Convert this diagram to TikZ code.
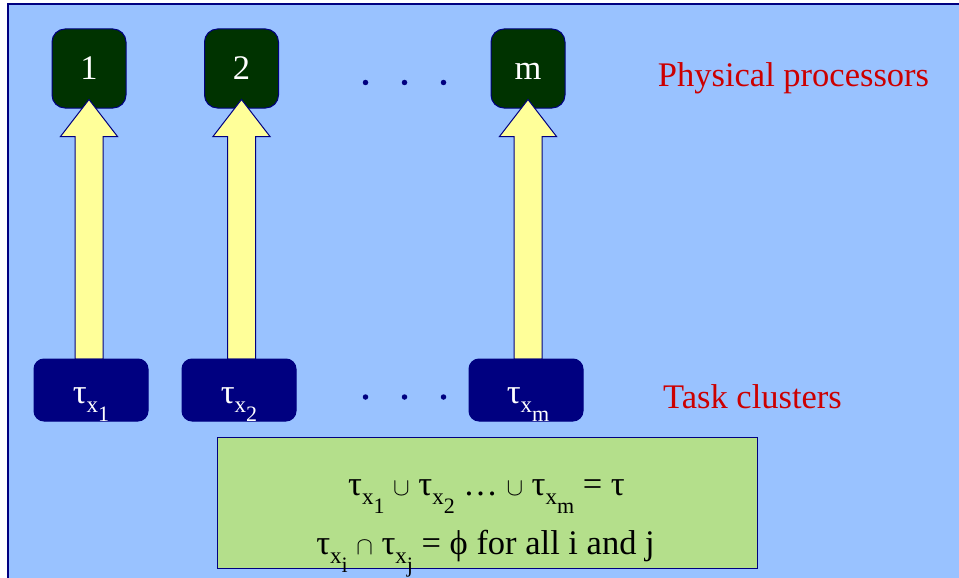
\documentclass[tikz,border=0pt]{standalone}
\usepackage{fontspec}
\setmainfont{Liberation Serif}
\usetikzlibrary{calc}
\definecolor{bgblue}{HTML}{99C2FF}
\definecolor{navyb}{HTML}{000080}
\definecolor{procgreen}{HTML}{003300}
\definecolor{arrowyellow}{HTML}{FFFF99}
\definecolor{boxgreen}{HTML}{B4DF8B}
\definecolor{labelred}{HTML}{CC0000}
\newcommand\tx[1]{τ\raisebox{-9pt}{\fontsize{23}{23}\selectfont x\raisebox{-9pt}{\fontsize{22}{22}\selectfont #1}}}
\tikzset{
  bigfont/.style={font=\fontsize{34.5}{40}\selectfont},
  procbox/.style={draw=navyb, line width=1pt, fill=procgreen, rounded corners=13pt,
    minimum width=74pt, minimum height=79pt, inner sep=0pt, text=white, bigfont,
    text height=23pt, text depth=0pt},
  clusterbox/.style={draw=navyb, line width=1pt, fill=navyb, rounded corners=10pt,
    minimum width=114pt, minimum height=62pt, inner sep=0pt},
  whitelabel/.style={text=white, bigfont, inner sep=0pt, anchor=base},
  redlabel/.style={text=labelred, bigfont, inner sep=0pt, anchor=base},
  blacklabel/.style={text=black, bigfont, inner sep=0pt, anchor=base},
  blockarrow/.style={draw=navyb, line width=1pt, fill=arrowyellow, line join=miter},
  greenbox/.style={draw=navyb, line width=1pt, fill=boxgreen,
    minimum width=540pt, minimum height=131pt, inner sep=0pt},
  dotmark/.style={circle, fill=navyb, inner sep=0pt, minimum size=5.5pt}
}
\begin{document}
\begin{tikzpicture}[x=1pt,y=-1pt]
\useasboundingbox (0,0) rectangle (959,578);
\fill[bgblue] (8,4) rectangle (959,578);
\draw[navyb, line width=1.2pt] (8,578) -- (8,4) -- (959,4);

% processors
\node[procbox] (p1) at (89,68.5) {1};
\node[procbox] (p2) at (241.5,68.5) {2};
\node[procbox] (pm) at (528,68.5) {m};

% cluster boxes (positions)
\coordinate (c1pos) at (91,390);
\coordinate (c2pos) at (239,390);
\coordinate (cmpos) at (526,390);

% arrows from cluster tops to processors
\foreach \cc/\pp in {c1pos/p1, c2pos/p2, cmpos/pm}{
  \draw[blockarrow] let \p1=($(\cc)+(0,-31)$), \p2=(\pp.south) in
    (\x2-14pt,\y1) -- (\x2-14pt,\y2-28pt) -- (\x2-28.5pt,\y2-28pt) --
    (\x2,\y2+9pt) -- (\x2+28.5pt,\y2-28pt) -- (\x2+14pt,\y2-28pt) --
    (\x2+14pt,\y1) -- cycle;
}

\node[clusterbox] (c1) at (c1pos) {};
\node[clusterbox] (c2) at (c2pos) {};
\node[clusterbox] (cm) at (cmpos) {};
\node[whitelabel] (t1) at ($(c1)+(0,13)$) {\tx{1}};
\node[whitelabel] (t2) at ($(c2)+(0,13)$) {\tx{2}};
\node[whitelabel] (tm) at ($(cm)+(2,13)$) {\tx{m}};

% dots
\node[dotmark] (da1) at (365.5,82.5) {};
\node[dotmark] (da2) at (404.5,82.5) {};
\node[dotmark] (da3) at (443.5,82.5) {};
\node[dotmark] (db1) at (365.5,397) {};
\node[dotmark] (db2) at (404.5,397) {};
\node[dotmark] (db3) at (443.5,397) {};

% labels
\node[redlabel] (phys) at (793.5,86) {Physical processors};
\node[redlabel] (task) at (752.5,408) {Task clusters};

% green box
\node[greenbox] (g) at (487,502.5) {};
\node[blacklabel] (eq1) at (486.5,495) {\tx{1} $\cup$ \tx{2} … $\cup$ \tx{m} = τ};
\node[blacklabel] (eq2) at (485.5,554) {\tx{i} $\cap$ \tx{j} = ϕ for all i and j};
\end{tikzpicture}
\end{document}
